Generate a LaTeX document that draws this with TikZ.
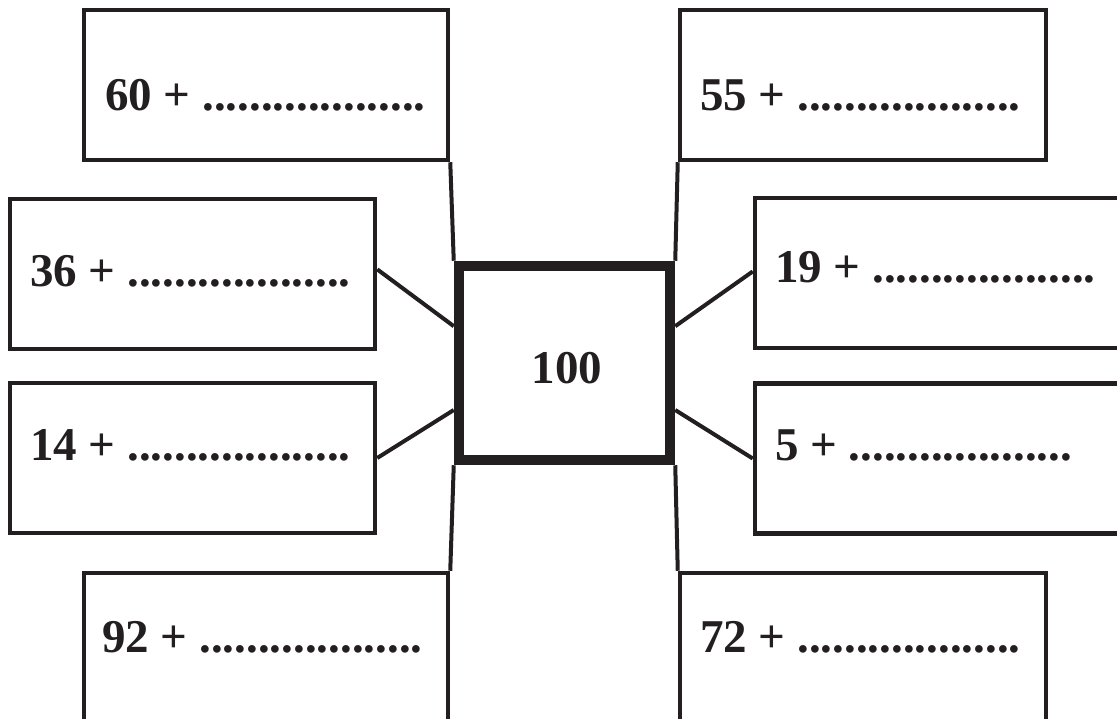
\documentclass[tikz,border=0pt]{standalone}
\usepackage{fontspec}
\setmainfont{Liberation Serif}
\usetikzlibrary{calc}
\definecolor{ink}{RGB}{35,31,32}
\begin{document}
\begin{tikzpicture}[x=1pt,y=-1pt,
  box/.style={draw=ink,line width=4.5pt,rectangle,inner sep=0pt,minimum height=150pt},
  hub/.style={draw=ink,line width=10.5pt,rectangle,inner sep=0pt,minimum width=211pt,minimum height=194pt},
  lbl/.style={text=ink,inner sep=0pt,anchor=base west,font=\fontsize{47}{50}\selectfont\bfseries},
  link/.style={draw=ink,line width=4pt}]
\useasboundingbox (0,0) rectangle (1117,719);
\clip (0,0) rectangle (1117,719);
\node[box,minimum width=364pt] (b60) at (266,85) {};
\node[box,minimum width=366pt] (b55) at (863,85) {};
\node[box,minimum width=365pt] (b36) at (192.5,274) {};
\node[box,minimum width=380pt] (b19) at (945,273) {};
\node[box,minimum width=365pt] (b14) at (192.5,458) {};
\node[box,minimum width=380pt] (b5) at (945,458.5) {};
\node[box,minimum width=364pt,minimum height=162pt] (b92) at (266,654) {};
\node[box,minimum width=366pt,minimum height=162pt] (b72) at (863,654) {};
\node[hub] (c) at (564.5,363) {};
\node[lbl,anchor=base] (t100) at (567,384) {100};
\node[lbl] (t60) at (105,111) {60 + ...................};
\node[lbl] (t55) at (700,111) {55 + ...................};
\node[lbl] (t36) at (30,287) {36 + ...................};
\node[lbl] (t19) at (775,283) {19 + ...................};
\node[lbl] (t14) at (30,460) {14 + ...................};
\node[lbl] (t5) at (775,460) {5 + ...................};
\node[lbl] (t92) at (102,652) {92 + ...................};
\node[lbl] (t72) at (700,652) {72 + ...................};
\draw[link] (b60.south east) -- (c.north west);
\draw[link] (b55.south west) -- (c.north east);
\draw[link] ($(b36.north east)!0.47!(b36.south east)$) -- ($(c.north west)!0.32!(c.south west)$);
\draw[link] ($(b19.north west)!0.49!(b19.south west)$) -- ($(c.north east)!0.32!(c.south east)$);
\draw[link] (b14.east) -- ($(c.north west)!0.73!(c.south west)$);
\draw[link] (b5.west) -- ($(c.north east)!0.73!(c.south east)$);
\draw[link] (c.south west) -- (b92.north east);
\draw[link] (c.south east) -- (b72.north west);
\end{tikzpicture}
\end{document}
